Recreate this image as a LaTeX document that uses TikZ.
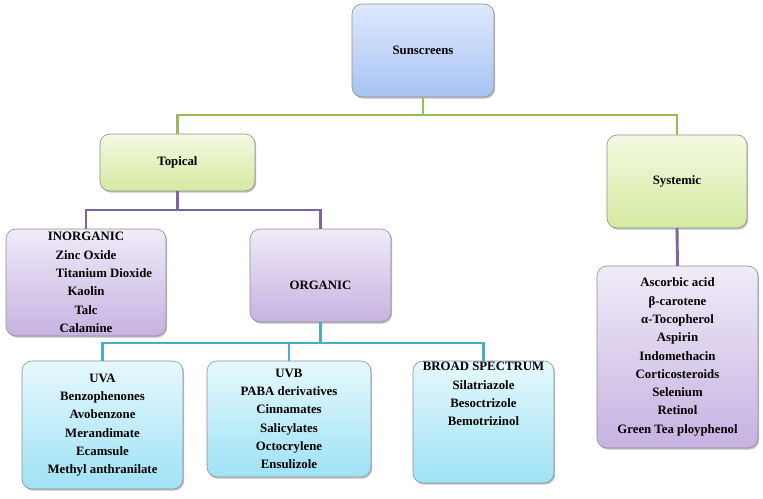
\documentclass[tikz,border=0pt]{standalone}
\usepackage{fontspec}
\setmainfont{Liberation Serif}
\usetikzlibrary{shadows}
\definecolor{gline}{HTML}{9BBB59}
\definecolor{pline}{HTML}{8064A2}
\definecolor{tline}{HTML}{4BACC6}
\definecolor{bordc}{HTML}{8E8E8E}
\tikzset{
  boxbase/.style={draw=bordc, line width=0.6pt, rounded corners=10pt, inner sep=0pt, outer sep=0pt,
    align=center, font=\fontsize{12.8}{18.3}\selectfont\bfseries,
    drop shadow={shadow xshift=1.2pt, shadow yshift=-1.6pt, opacity=0.35, fill=black!70}},
  bluebox/.style={boxbase, top color={rgb,255:red,222;green,233;blue,252}, bottom color={rgb,255:red,167;green,195;blue,242}},
  greenbox/.style={boxbase, top color={rgb,255:red,244;green,249;blue,226}, bottom color={rgb,255:red,212;green,234;blue,160}},
  purplebox/.style={boxbase, top color={rgb,255:red,240;green,235;blue,248}, bottom color={rgb,255:red,198;green,178;blue,225}},
  cyanbox/.style={boxbase, top color={rgb,255:red,230;green,248;blue,253}, bottom color={rgb,255:red,158;green,226;blue,245}},
  txt/.style={align=center, inner sep=0pt, font=\fontsize{12.8}{18.3}\selectfont\bfseries},
  conn/.style={line width=2.9pt},
}
\begin{document}
\begin{tikzpicture}[x=1pt,y=-1pt]
\useasboundingbox (0,0) rectangle (763,498);
% boxes
\node[bluebox, minimum width=142pt, minimum height=93pt] (sun) at (423,50.5) {Sunscreens};
\node[greenbox, minimum width=155pt, minimum height=57pt] (topical) at (177.5,162.5) {Topical};
\node[greenbox, minimum width=140pt, minimum height=93pt] (systemic) at (677,181.5) {Systemic};
\node[purplebox, minimum width=160pt, minimum height=107pt] (inorg) at (86,282.5) {INORGANIC\\Zinc Oxide\\\hspace*{36pt}Titanium Dioxide\\Kaolin\\Talc\\Calamine};
\node[purplebox, minimum width=141pt, minimum height=93pt] (org) at (320.5,275.5) {};
\node[txt] (orgtxt) at (320.5,285) {ORGANIC};
\node[cyanbox, minimum width=161pt, minimum height=128pt] (uva) at (102.5,425) {UVA\\Benzophenones\\Avobenzone\\Merandimate\\Ecamsule\\Methyl anthranilate};
\node[cyanbox, minimum width=164pt, minimum height=116pt] (uvb) at (289,419) {UVB\\PABA derivatives\\Cinnamates\\Salicylates\\Octocrylene\\Ensulizole};
\node[cyanbox, minimum width=141pt, minimum height=122pt] (broad) at (483.5,422) {};
\node[txt] (broadtxt) at (483.5,394) {BROAD SPECTRUM\\Silatriazole\\Besoctrizole\\Bemotrizinol};
\node[purplebox, minimum width=161pt, minimum height=182pt] (syslist) at (677.5,357) {Ascorbic acid\\β-carotene\\α-Tocopherol\\Aspirin\\Indomethacin\\Corticosteroids\\Selenium\\Retinol\\Green Tea ployphenol};
% connectors
\draw[conn, gline] (sun.south) -- ++(0,18) -| (topical.north);
\draw[conn, gline] (sun.south) -- ++(0,18) -| (systemic.north);
\draw[conn, pline] (topical.south) -- ++(0,19) -| (inorg.north);
\draw[conn, pline] (topical.south) -- ++(0,19) -| (org.north);
\draw[conn, tline] (org.south) -- ++(0,21) -| (uva.north);
\draw[conn, tline] (org.south) -- ++(0,21) -| (uvb.north);
\draw[conn, tline] (org.south) -- ++(0,21) -| (broad.north);
\draw[conn, pline] (systemic.south) -- (syslist.north);
\end{tikzpicture}
\end{document}
